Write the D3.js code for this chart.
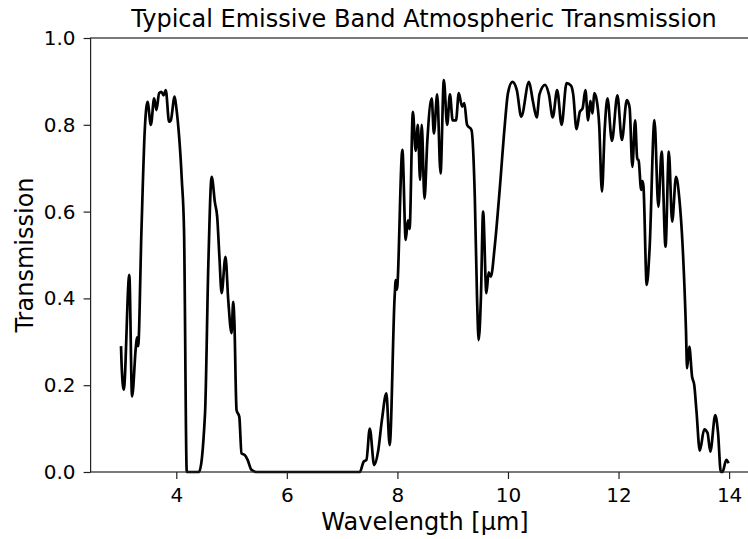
<!DOCTYPE html>
<html><head><meta charset="utf-8">
<script src="https://cdn.jsdelivr.net/npm/d3@7"></script>
<style>body{margin:0;background:#fff}svg{display:block}text{font-family:"DejaVu Sans",sans-serif;fill:#000}</style>
</head><body><svg id="c" width="748" height="539"></svg>
<script>
const wavelength = [3.0,3.01,3.05,3.15,3.2,3.27,3.29,3.31,3.37,3.43,3.48,3.54,3.6,3.64,3.69,3.73,3.77,3.81,3.87,3.9,3.97,4.0,4.1,4.14,4.19,4.41,4.52,4.58,4.64,4.7,4.74,4.78,4.82,4.89,4.94,5.0,5.03,5.05,5.09,5.14,5.18,5.24,5.29,5.36,5.45,6.0,7.0,7.32,7.39,7.44,7.5,7.58,7.65,7.72,7.8,7.86,7.95,7.97,7.99,8.09,8.15,8.19,8.22,8.28,8.33,8.37,8.41,8.44,8.49,8.54,8.62,8.66,8.72,8.78,8.84,8.9,8.95,9.0,9.06,9.11,9.17,9.21,9.26,9.34,9.4,9.44,9.47,9.51,9.55,9.61,9.65,9.69,9.76,9.85,9.94,10.0,10.08,10.16,10.24,10.38,10.45,10.52,10.57,10.67,10.74,10.81,10.89,10.97,11.06,11.14,11.18,11.24,11.3,11.35,11.4,11.45,11.49,11.53,11.56,11.6,11.65,11.7,11.75,11.8,11.88,11.98,12.06,12.15,12.2,12.25,12.3,12.34,12.36,12.41,12.43,12.45,12.51,12.56,12.65,12.72,12.78,12.85,12.91,12.97,13.04,13.1,13.16,13.22,13.24,13.28,13.33,13.37,13.41,13.47,13.55,13.61,13.66,13.75,13.8,13.85,13.88,13.95,13.99];
const transmission = [0.29,0.25,0.19,0.454,0.174,0.29,0.31,0.29,0.557,0.788,0.853,0.80,0.861,0.834,0.873,0.876,0.868,0.88,0.807,0.81,0.865,0.84,0.673,0.557,0.0,0.0,0.135,0.48,0.68,0.62,0.588,0.496,0.412,0.496,0.396,0.32,0.392,0.35,0.143,0.127,0.043,0.039,0.028,0.005,0.0,0.0,0.0,0.0,0.024,0.028,0.1,0.016,0.047,0.12,0.181,0.062,0.404,0.442,0.42,0.742,0.535,0.58,0.56,0.83,0.74,0.80,0.673,0.80,0.63,0.76,0.861,0.78,0.87,0.688,0.903,0.80,0.87,0.81,0.81,0.873,0.842,0.85,0.80,0.788,0.634,0.404,0.304,0.40,0.60,0.412,0.46,0.45,0.519,0.65,0.796,0.873,0.899,0.88,0.819,0.899,0.855,0.817,0.87,0.892,0.87,0.817,0.88,0.80,0.896,0.89,0.87,0.79,0.83,0.838,0.88,0.81,0.855,0.826,0.873,0.86,0.80,0.646,0.79,0.861,0.763,0.868,0.765,0.857,0.84,0.703,0.81,0.72,0.72,0.65,0.67,0.66,0.431,0.51,0.811,0.611,0.738,0.519,0.738,0.577,0.68,0.63,0.519,0.327,0.239,0.289,0.22,0.20,0.14,0.049,0.098,0.09,0.047,0.131,0.09,0.0,0.0,0.028,0.02];
const xTicks = [4,6,8,10,12,14];
const yTicks = [0.0,0.2,0.4,0.6,0.8,1.0];
const titleText = "Typical Emissive Band Atmospheric Transmission";
const xLabel = "Wavelength [µm]";
const yLabel = "Transmission";

const svg = d3.select("#c");
const L = 90.6, R = 759.5, T = 38, B = 472;
const x = d3.scaleLinear().domain([2.45, 14.55]).range([L, R]);
const y = d3.scaleLinear().domain([0, 1]).range([B, T]);
const data = wavelength.map((w,i)=>[w, transmission[i]]);

svg.append("path").datum(data)
  .attr("fill","none").attr("stroke","#000").attr("stroke-width",2.7)
  .attr("stroke-linejoin","round")
  .attr("d", d3.line().x(d=>x(d[0])).y(d=>y(d[1])).curve(d3.curveMonotoneX));

const xa = svg.append("g").attr("transform",`translate(0,${B})`)
  .call(d3.axisBottom(x).tickValues(xTicks).tickFormat(d3.format("d")).tickSize(7).tickPadding(9));
const ya = svg.append("g").attr("transform",`translate(${L},0)`)
  .call(d3.axisLeft(y).tickValues(yTicks).tickFormat(d3.format(".1f")).tickSize(7).tickPadding(8));
[xa,ya].forEach(a=>{
  a.select(".domain").remove();
  a.selectAll("line").attr("stroke","#222").attr("stroke-width",1.2);
  a.selectAll("text").attr("font-size",20).attr("font-family","DejaVu Sans").attr("fill","#000");
});
svg.append("rect").attr("x",L).attr("y",T).attr("width",R-L).attr("height",B-T)
  .attr("fill","none").attr("stroke","#222").attr("stroke-width",1.2);

svg.append("text").attr("x",(L+R)/2 - 1).attr("y",27).attr("text-anchor","middle")
  .attr("font-size",24).text(titleText);
svg.append("text").attr("x",(L+R)/2).attr("y",530).attr("text-anchor","middle")
  .attr("font-size",24).text(xLabel);
svg.append("text").attr("transform",`translate(33,${(T+B)/2}) rotate(-90)`).attr("text-anchor","middle")
  .attr("font-size",24).text(yLabel);
</script></body></html>
